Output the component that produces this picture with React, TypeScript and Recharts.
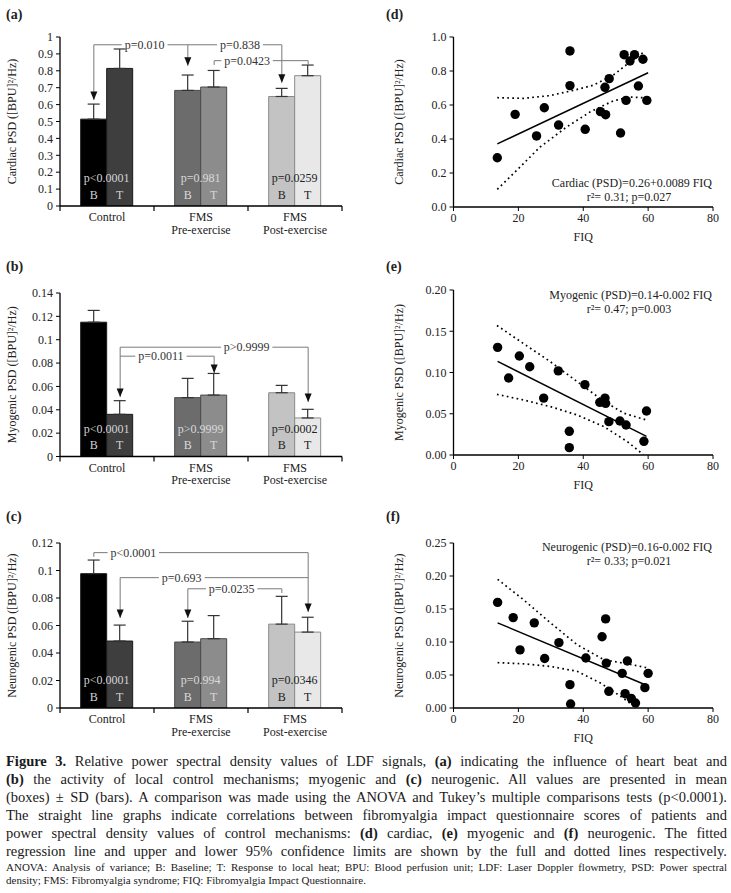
import React from "react";
import {
  BarChart,
  Bar,
  XAxis,
  YAxis,
  ErrorBar,
  Cell,
  LabelList,
  ReferenceLine,
  ReferenceDot,
  ScatterChart,
  Scatter
} from "recharts";

const FONT = "'Liberation Serif', 'DejaVu Serif', serif";

// ---- bar panels (a)-(c): mean and SD, B = baseline, T = local heat ----
const groups = ["Control", "FMS Pre-exercise", "FMS Post-exercise"];

const cardiacB = [0.514, 0.684, 0.648];
const cardiacBsd = [0.089, 0.091, 0.048];
const cardiacT = [0.814, 0.704, 0.771];
const cardiacTsd = [0.115, 0.098, 0.063];
const cardiacP = ["p<0.0001", "p=0.981", "p=0.0259"];
const cardiacTicks = [0, 0.1, 0.2, 0.3, 0.4, 0.5, 0.6, 0.7, 0.8, 0.9, 1];

const myoB = [0.115, 0.0504, 0.0546];
const myoBsd = [0.0101, 0.0165, 0.0063];
const myoT = [0.0361, 0.0526, 0.033];
const myoTsd = [0.0117, 0.0185, 0.0074];
const myoP = ["p<0.0001", "p>0.9999", "p=0.0002"];
const myoTicks = [0, 0.02, 0.04, 0.06, 0.08, 0.1, 0.12, 0.14];

const neuroB = [0.0977, 0.048, 0.061];
const neuroBsd = [0.0099, 0.0151, 0.0202];
const neuroT = [0.0487, 0.0504, 0.0552];
const neuroTsd = [0.0116, 0.0168, 0.0108];
const neuroP = ["p<0.0001", "p=0.994", "p=0.0346"];
const neuroTicks = [0, 0.02, 0.04, 0.06, 0.08, 0.1, 0.12];

// ---- scatter panels (d)-(f): FIQ vs PSD ----
const cardiacFIQ = [13.5, 19.0, 25.6, 28.0, 32.4, 35.9, 35.9, 40.6, 45.3, 46.9, 46.7, 48.0, 51.5, 52.6, 53.2, 54.4, 55.8, 57.0, 58.4, 59.6];
const cardiacPSD = [0.29, 0.545, 0.418, 0.584, 0.482, 0.918, 0.714, 0.457, 0.561, 0.543, 0.704, 0.755, 0.435, 0.896, 0.627, 0.859, 0.896, 0.712, 0.869, 0.627];
const cardiacFitX = [13.5, 60];
const cardiacFitY = [0.371, 0.79];
const cardiacUpX = [13.5, 21.5, 29.7, 36.9, 43.1, 49.2, 54.4, 58.7];
const cardiacUpY = [0.643, 0.639, 0.655, 0.686, 0.716, 0.775, 0.853, 0.912];
const cardiacLoX = [13.5, 19.5, 26.7, 34.9, 42.1, 49.2, 54.4, 60];
const cardiacLoY = [0.104, 0.216, 0.353, 0.471, 0.559, 0.624, 0.647, 0.641];

const myoFIQ = [13.6, 17.0, 20.3, 23.5, 27.8, 32.3, 35.7, 35.7, 40.5, 45.1, 46.7, 46.9, 47.9, 51.3, 53.2, 58.7, 59.5];
const myoPSD = [0.1305, 0.0933, 0.12, 0.107, 0.069, 0.102, 0.0287, 0.0089, 0.0853, 0.0638, 0.069, 0.0626, 0.0404, 0.0412, 0.0364, 0.0166, 0.0533];
const myoFitX = [13.6, 59.5];
const myoFitY = [0.1135, 0.0226];
const myoUpX = [13.4, 21.6, 29.9, 38.1, 46.4, 52.6, 59.5];
const myoUpY = [0.157, 0.135, 0.113, 0.089, 0.065, 0.0505, 0.0424];
const myoLoX = [13.4, 21.6, 29.9, 38.1, 46.4, 53.6, 58.5];
const myoLoY = [0.0735, 0.0667, 0.0586, 0.0485, 0.0343, 0.0162, 0.0005];

const neuroFIQ = [13.6, 18.4, 20.5, 24.9, 28.1, 32.5, 35.9, 36.1, 40.8, 45.8, 46.9, 47.1, 47.9, 52.0, 52.9, 53.6, 54.8, 56.1, 59.0, 60.0];
const neuroPSD = [0.16, 0.137, 0.088, 0.129, 0.075, 0.099, 0.0354, 0.006, 0.0758, 0.108, 0.135, 0.068, 0.0253, 0.0525, 0.0217, 0.0712, 0.0146, 0.0076, 0.0308, 0.0525];
const neuroFitX = [13.6, 59.3];
const neuroFitY = [0.129, 0.0348];
const neuroUpX = [13.6, 21.6, 29.9, 38.1, 46.4, 53.6, 60];
const neuroUpY = [0.195, 0.164, 0.129, 0.096, 0.073, 0.067, 0.0606];
const neuroLoX = [13.6, 21.6, 29.9, 38.1, 45.3, 51.5, 55.1];
const neuroLoY = [0.0687, 0.067, 0.063, 0.0556, 0.0379, 0.0177, 0.005];

const fiqTicks = [0, 20, 40, 60, 80];

// ---- styling ----
const bFill = ["#000000", "#6c6c6c", "#c3c3c3"];
const tFill = ["#3e3e3e", "#8c8c8c", "#e8e8e8"];
const barStroke = ["#1a1a1a", "#4a4a4a", "#8a8a8a"];
const innerText = ["#d4d4d4", "#dadada", "#222222"];
const BRACKET = "#7a7a7a";

const BAR_W = 350;
const BAR_YW = 60;
const BAR_RIGHT = 8;
const BAND = (BAR_W - BAR_YW - BAR_RIGHT) / groups.length;

// bracket x positions in band units (0..3): B / T bar centres
const B = (i: number) => i + 0.36;
const T = (i: number) => i + 0.64;

// band units -> category + pixel offset from the band centre
const xAt = (v: number) => {
  const i = Math.min(groups.length - 1, Math.floor(v));
  return { cat: groups[i], off: (v - i - 0.5) * BAND };
};

interface Bracket {
  y: number;
  x1: number;
  x2: number;
  end1?: number;
  end2?: number;
  arrow1?: boolean;
  arrow2?: boolean;
  label: string;
  lx: number;
}

const cardiacBrackets: Bracket[] = [
  { y: 0.954, x1: B(0), x2: B(1), end1: 0.627, end2: 0.83, arrow1: true, arrow2: true, label: "p=0.010", lx: 0.9 },
  { y: 0.954, x1: B(1), x2: B(2), end2: 0.73, arrow2: true, label: "p=0.838", lx: 1.915 },
  { y: 0.86, x1: T(1), x2: T(2), end1: 0.834, end2: 0.834, label: "p=0.0423", lx: 1.99 }
];
const myoBrackets: Bracket[] = [
  { y: 0.0936, x1: T(0), x2: T(2), end1: 0.051, end2: 0.0467, arrow1: true, arrow2: true, label: "p>0.9999", lx: 1.986 },
  { y: 0.0859, x1: T(0), x2: T(1), end2: 0.0715, arrow2: true, label: "p=0.0011", lx: 1.074 }
];
const neuroBrackets: Bracket[] = [
  { y: 0.113, x1: B(0), x2: T(2), end1: 0.11, end2: 0.0699, arrow2: true, label: "p<0.0001", lx: 0.78 },
  { y: 0.0948, x1: T(0), x2: T(2), end1: 0.0655, arrow1: true, label: "p=0.693", lx: 1.295 },
  { y: 0.0867, x1: B(1), x2: B(2), end1: 0.0655, arrow1: true, end2: 0.0836, label: "p=0.0235", lx: 1.826 }
];

function segment(key: string, a: number, ya: number, c: number, yc: number) {
  const pa = xAt(a);
  const pc = xAt(c);
  return (
    <ReferenceLine
      key={key}
      segment={[{ x: pa.cat, y: ya }, { x: pc.cat, y: yc }]}
      ifOverflow="visible"
      shape={(p: any) => (
        <line
          x1={p.x1 + pa.off}
          y1={p.y1}
          x2={p.x2 + pc.off}
          y2={p.y2}
          stroke={BRACKET}
          strokeWidth={1}
        />
      )}
    />
  );
}

function bracketEls(list: Bracket[]) {
  const out: React.ReactNode[] = [];
  list.forEach((b, k) => {
    const hw = (b.label.length * 5.6) / 2 / BAND + 0.035;
    out.push(segment(`h${k}a`, b.x1, b.y, b.lx - hw, b.y));
    out.push(segment(`h${k}b`, b.lx + hw, b.y, b.x2, b.y));
    const ends: [number, number | undefined, boolean | undefined][] = [
      [b.x1, b.end1, b.arrow1],
      [b.x2, b.end2, b.arrow2]
    ];
    ends.forEach(([x, e, arr], j) => {
      if (e === undefined) return;
      out.push(segment(`v${k}${j}`, x, b.y, x, e));
      if (arr) {
        const px = xAt(x);
        out.push(
          <ReferenceDot
            key={`a${k}${j}`}
            x={px.cat}
            y={e}
            r={3}
            ifOverflow="visible"
            shape={(p: any) => {
              const cx = p.cx + px.off;
              return <path d={`M${cx - 3.5},${p.cy - 8.5}L${cx + 3.5},${p.cy - 8.5}L${cx},${p.cy}Z`} fill="#111" />;
            }}
          />
        );
      }
    });
    const pl = xAt(b.lx);
    out.push(
      <ReferenceDot
        key={`t${k}`}
        x={pl.cat}
        y={b.y}
        r={3}
        ifOverflow="visible"
        shape={(p: any) => (
          <text x={p.cx + pl.off} y={p.cy} textAnchor="middle" dominantBaseline="central" fontSize={12} fill="#333">
            {b.label}
          </text>
        )}
      />
    );
  });
  return out;
}

const boxOf = (p: any) => (p.viewBox && p.viewBox.width != null ? p.viewBox : p);

const yLabel = (text: string, dx: number) => (p: any) => {
  const vb = boxOf(p);
  const cx = vb.x + dx;
  const cy = vb.y + vb.height / 2;
  return (
    <text
      x={cx}
      y={cy}
      transform={`rotate(-90 ${cx} ${cy})`}
      textAnchor="middle"
      dominantBaseline="central"
      fontSize={12}
      fill="#222"
    >
      {text}
    </text>
  );
};

function GroupTick(props: any) {
  const { x, y, payload, index } = props;
  const name: string = payload.value;
  const sp = name.indexOf(" ");
  const lines = sp < 0 ? [name] : [name.slice(0, sp), name.slice(sp + 1)];
  return (
    <g>
      <line x1={x - BAND / 2} x2={x - BAND / 2} y1={y} y2={y + 5} stroke="#000" strokeWidth={1.2} />
      {index === groups.length - 1 && (
        <line x1={x + BAND / 2} x2={x + BAND / 2} y1={y} y2={y + 5} stroke="#000" strokeWidth={1.2} />
      )}
      <text x={x} y={y + 15} textAnchor="middle" fontSize={12} fill="#222">
        {lines.map((l, i) => (
          <tspan key={i} x={x} dy={i === 0 ? 0 : 12.5}>
            {l}
          </tspan>
        ))}
      </text>
    </g>
  );
}

const pLabel = (p: any) => {
  const vb = boxOf(p);
  return (
    <text
      x={vb.x + vb.width}
      y={vb.y + vb.height - 28}
      textAnchor="middle"
      dominantBaseline="central"
      fontSize={12}
      fill={innerText[p.index]}
    >
      {p.value}
    </text>
  );
};

const letter = (ch: string) => (p: any) => {
  const vb = boxOf(p);
  return (
    <text
      x={vb.x + vb.width / 2}
      y={vb.y + vb.height - 11.5}
      textAnchor="middle"
      dominantBaseline="central"
      fontSize={12}
      fill={innerText[p.index]}
    >
      {ch}
    </text>
  );
};

interface BarProps {
  top: number;
  plotH: number;
  ticks: number[];
  b: number[];
  bsd: number[];
  t: number[];
  tsd: number[];
  p: string[];
  brackets: Bracket[];
  title: string;
}

function BarPanel({ top, plotH, ticks, b, bsd, t, tsd, p, brackets, title }: BarProps) {
  const data = groups.map((g, i) => ({
    group: g,
    b: b[i],
    t: t[i],
    bErr: [0, bsd[i]],
    tErr: [0, tsd[i]],
    p: p[i]
  }));
  return (
    <div style={{ position: "absolute", left: 0, top }}>
      <BarChart
        width={BAR_W}
        height={37 + plotH + 44}
        data={data}
        margin={{ top: 37, right: BAR_RIGHT, left: 0, bottom: 0 }}
        barCategoryGap="22%"
        barGap={0}
        style={{ fontFamily: FONT }}
      >
        <XAxis
          dataKey="group"
          height={44}
          interval={0}
          tickLine={false}
          tickSize={0}
          tickMargin={0}
          tick={(tp: any) => <GroupTick {...tp} />}
          axisLine={{ stroke: "#000", strokeWidth: 1.3 }}
        />
        <YAxis
          width={BAR_YW}
          domain={[0, ticks[ticks.length - 1]]}
          ticks={ticks}
          interval={0}
          allowDataOverflow
          tickSize={4}
          tickMargin={3}
          tick={{ fontSize: 12, fill: "#222" }}
          axisLine={{ stroke: "#000", strokeWidth: 1.3 }}
          tickLine={{ stroke: "#000" }}
          label={yLabel(title, 12)}
        />
        <Bar dataKey="b" isAnimationActive={false}>
          {data.map((_, i) => (
            <Cell key={i} fill={bFill[i]} stroke={barStroke[i]} />
          ))}
          <ErrorBar dataKey="bErr" direction="y" width={6} stroke="#333" strokeWidth={1.2} />
          <LabelList dataKey="p" content={pLabel} />
          <LabelList dataKey="b" content={letter("B")} />
        </Bar>
        <Bar dataKey="t" isAnimationActive={false}>
          {data.map((_, i) => (
            <Cell key={i} fill={tFill[i]} stroke={barStroke[i]} />
          ))}
          <ErrorBar dataKey="tErr" direction="y" width={6} stroke="#333" strokeWidth={1.2} />
          <LabelList dataKey="t" content={letter("T")} />
        </Bar>
        {bracketEls(brackets)}
      </BarChart>
    </div>
  );
}

const pts = (xs: number[], ys: number[]) => xs.map((x, i) => ({ x, y: ys[i] }));
const noDot = () => <g />;
const dot = (p: any) => <circle cx={p.cx} cy={p.cy} r={4.7} fill="#000" />;

interface ScatterProps {
  top: number;
  plotH: number;
  ticks: number[];
  digits: number;
  xs: number[];
  ys: number[];
  fitX: number[];
  fitY: number[];
  upX: number[];
  upY: number[];
  loX: number[];
  loY: number[];
  title: string;
  note: string;
  stats: string;
  noteY: number;
}

function ScatterPanel(s: ScatterProps) {
  const dotted = { stroke: "#000", strokeWidth: 1.7, strokeDasharray: "1.7 3.3" };
  return (
    <div style={{ position: "absolute", left: 380, top: s.top }}>
      <ScatterChart
        width={345}
        height={37 + s.plotH + 43}
        margin={{ top: 37, right: 12, left: 0, bottom: 0 }}
        style={{ fontFamily: FONT }}
      >
        <XAxis
          type="number"
          dataKey="x"
          domain={[0, 80]}
          ticks={fiqTicks}
          interval={0}
          height={43}
          tickSize={4}
          tickMargin={2}
          tick={{ fontSize: 12, fill: "#222" }}
          axisLine={{ stroke: "#000", strokeWidth: 1.3 }}
          tickLine={{ stroke: "#000" }}
          label={(p: any) => {
            const vb = boxOf(p);
            return (
              <text
                x={vb.x + vb.width / 2}
                y={vb.y + 30}
                textAnchor="middle"
                dominantBaseline="central"
                fontSize={12}
                fill="#222"
              >
                FIQ
              </text>
            );
          }}
        />
        <YAxis
          type="number"
          dataKey="y"
          width={73.5}
          domain={[0, s.ticks[s.ticks.length - 1]]}
          ticks={s.ticks}
          interval={0}
          allowDataOverflow
          tickSize={4}
          tickMargin={3}
          tickFormatter={(v: number) => v.toFixed(s.digits)}
          tick={{ fontSize: 12, fill: "#222" }}
          axisLine={{ stroke: "#000", strokeWidth: 1.3 }}
          tickLine={{ stroke: "#000" }}
          label={yLabel(s.title, 19)}
        />
        <Scatter data={pts(s.upX, s.upY)} line={dotted} shape={noDot} isAnimationActive={false} />
        <Scatter data={pts(s.loX, s.loY)} line={dotted} shape={noDot} isAnimationActive={false} />
        <Scatter
          data={pts(s.fitX, s.fitY)}
          line={{ stroke: "#000", strokeWidth: 1.5 }}
          shape={noDot}
          isAnimationActive={false}
        />
        <Scatter data={pts(s.xs, s.ys)} shape={dot} isAnimationActive={false} />
        <ReferenceDot
          x={80}
          y={s.noteY}
          r={3}
          ifOverflow="visible"
          shape={(p: any) => (
            <g>
              <text x={p.cx - 1} y={p.cy} textAnchor="end" dominantBaseline="central" fontSize={12} fill="#222">
                {s.note}
              </text>
              <text x={p.cx - 84} y={p.cy + 14} textAnchor="middle" dominantBaseline="central" fontSize={12} fill="#222">
                {s.stats}
              </text>
            </g>
          )}
        />
      </ScatterChart>
    </div>
  );
}

const panelTag = (text: string, left: number, top: number) => (
  <div style={{ position: "absolute", left, top, fontWeight: "bold", fontSize: 14, lineHeight: "16px" }}>{text}</div>
);

const just: React.CSSProperties = { textAlign: "justify", textAlignLast: "justify", whiteSpace: "nowrap" };

export default function App() {
  return (
    <div
      style={{
        position: "absolute",
        left: 0,
        top: 0,
        width: 731,
        height: 893,
        background: "#fff",
        fontFamily: FONT,
        color: "#222"
      }}
    >
      {panelTag("(a)", 6, 7)}
      {panelTag("(b)", 6, 259)}
      {panelTag("(c)", 6, 509)}
      {panelTag("(d)", 386, 7)}
      {panelTag("(e)", 386, 259)}
      {panelTag("(f)", 386, 509)}

      <BarPanel
        top={0}
        plotH={169}
        ticks={cardiacTicks}
        b={cardiacB}
        bsd={cardiacBsd}
        t={cardiacT}
        tsd={cardiacTsd}
        p={cardiacP}
        brackets={cardiacBrackets}
        title="Cardiac PSD ([BPU]²/Hz)"
      />
      <BarPanel
        top={256}
        plotH={163.5}
        ticks={myoTicks}
        b={myoB}
        bsd={myoBsd}
        t={myoT}
        tsd={myoTsd}
        p={myoP}
        brackets={myoBrackets}
        title="Myogenic PSD ([BPU]²/Hz)"
      />
      <BarPanel
        top={506}
        plotH={165}
        ticks={neuroTicks}
        b={neuroB}
        bsd={neuroBsd}
        t={neuroT}
        tsd={neuroTsd}
        p={neuroP}
        brackets={neuroBrackets}
        title="Neurogenic PSD ([BPU]²/Hz)"
      />

      <ScatterPanel
        top={0}
        plotH={170}
        ticks={[0, 0.2, 0.4, 0.6, 0.8, 1.0]}
        digits={1}
        xs={cardiacFIQ}
        ys={cardiacPSD}
        fitX={cardiacFitX}
        fitY={cardiacFitY}
        upX={cardiacUpX}
        upY={cardiacUpY}
        loX={cardiacLoX}
        loY={cardiacLoY}
        title="Cardiac PSD ([BPU]²/Hz)"
        note="Cardiac (PSD)=0.26+0.0089 FIQ"
        stats="r²= 0.31; p=0.027"
        noteY={0.139}
      />
      <ScatterPanel
        top={253}
        plotH={165}
        ticks={[0, 0.05, 0.1, 0.15, 0.2]}
        digits={2}
        xs={myoFIQ}
        ys={myoPSD}
        fitX={myoFitX}
        fitY={myoFitY}
        upX={myoUpX}
        upY={myoUpY}
        loX={myoLoX}
        loY={myoLoY}
        title="Myogenic PSD ([BPU]²/Hz)"
        note="Myogenic (PSD)=0.14-0.002 FIQ"
        stats="r²= 0.47; p=0.003"
        noteY={0.194}
      />
      <ScatterPanel
        top={506}
        plotH={165}
        ticks={[0, 0.05, 0.1, 0.15, 0.2, 0.25]}
        digits={2}
        xs={neuroFIQ}
        ys={neuroPSD}
        fitX={neuroFitX}
        fitY={neuroFitY}
        upX={neuroUpX}
        upY={neuroUpY}
        loX={neuroLoX}
        loY={neuroLoY}
        title="Neurogenic PSD ([BPU]²/Hz)"
        note="Neurogenic (PSD)=0.16-0.002 FIQ"
        stats="r²= 0.33; p=0.021"
        noteY={0.244}
      />

      <div style={{ position: "absolute", left: 6, top: 752, width: 721, fontSize: 14.5, lineHeight: "18px", color: "#1a1a1a" }}>
        <div style={just}>
          <b>Figure 3.</b> Relative power spectral density values of LDF signals, <b>(a)</b> indicating the influence of heart beat and
        </div>
        <div style={just}>
          <b>(b)</b> the activity of local control mechanisms; myogenic and <b>(c)</b> neurogenic. All values are presented in mean
        </div>
        <div style={just}>
          (boxes) ± SD (bars). A comparison was made using the ANOVA and Tukey’s multiple comparisons tests (p&lt;0.0001).
        </div>
        <div style={just}>
          The straight line graphs indicate correlations between fibromyalgia impact questionnaire scores of patients and
        </div>
        <div style={just}>
          power spectral density values of control mechanisms: <b>(d)</b> cardiac, <b>(e)</b> myogenic and <b>(f)</b> neurogenic. The fitted
        </div>
        <div style={just}>
          regression line and upper and lower 95% confidence limits are shown by the full and dotted lines respectively.
        </div>
        <div style={{ ...just, fontSize: 11, lineHeight: "13px", marginTop: 1 }}>
          ANOVA: Analysis of variance; B: Baseline; T: Response to local heat; BPU: Blood perfusion unit; LDF: Laser Doppler flowmetry, PSD: Power spectral
        </div>
        <div style={{ fontSize: 11, lineHeight: "13px", whiteSpace: "nowrap" }}>
          density; FMS: Fibromyalgia syndrome; FIQ: Fibromyalgia Impact Questionnaire.
        </div>
      </div>
    </div>
  );
}
